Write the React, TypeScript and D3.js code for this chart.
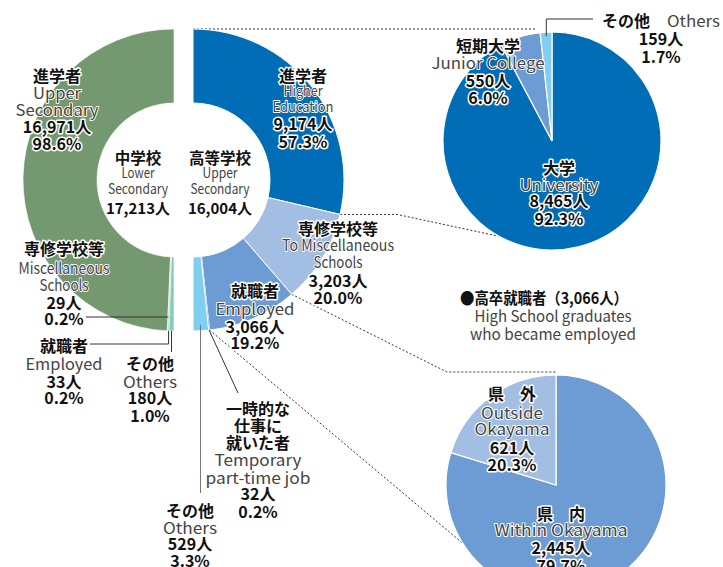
import React from "react";
import * as d3 from "d3";

const W = 723;
const H = 567;

// 中学校卒業者の進路
const jhsNames = ["進学者", "専修学校等", "就職者", "その他"];
const jhsCounts = [16971, 29, 33, 180];
const jhsPcts = [98.6, 0.2, 0.2, 1.0];
const jhsColors = ["#74986f", "#7dc994", "#1b9a4a", "#84cdbb"];

// 高等学校卒業者の進路
const hsNames = ["進学者", "専修学校等", "就職者", "一時的な仕事に就いた者", "その他"];
const hsCounts = [9174, 3203, 3066, 32, 529];
const hsPcts = [57.3, 20.0, 19.2, 0.2, 3.3];
const hsColors = ["#006db6", "#a3bee3", "#6c9cd3", "#0a6cb5", "#80cef1"];

// 進学者の内訳
const higherNames = ["大学", "短期大学", "その他"];
const higherCounts = [8465, 550, 159];
const higherPcts = [92.3, 6.0, 1.7];
const higherColors = ["#006db6", "#6c9cd3", "#80cef1"];

// 高卒就職者 県内・県外
const empNames = ["県　内", "県　外"];
const empCounts = [2445, 621];
const empPcts = [79.7, 20.3];
const empColors = ["#6c9cd3", "#a3bee3"];

const FONT = "'Noto Sans CJK JP', 'Noto Sans', sans-serif";
const fmtN = (v: number) => d3.format(",")(v) + "人";
const fmtP = (v: number) => d3.format(".1f")(v) + "%";

// layout
const CY = 180, R_OUT = 151, R_IN = 77, CX_L = 174, CX_R = 193;
const P1 = { x: 552, y: 141, r: 109 };
const P2 = { x: 556, y: 485, r: 110 };

const pt = (cx: number, cy: number, r: number, a: number): [number, number] => [
  cx + r * Math.sin(a),
  cy - r * Math.cos(a),
];
const mid = (d: any) => (d.startAngle + d.endAngle) / 2;
const deg = (v: number) => (v * Math.PI) / 180;

type Ln = { t: string; k?: "j" | "e" | "n"; w?: number; dy?: number; s?: number };

const Label = ({ x, y, lines, lh = 17 }: { x: number; y: number; lines: Ln[]; lh?: number }) => {
  let yy = y;
  return (
    <g>
      {lines.map((l, i) => {
        if (i > 0) yy += l.dy ?? lh;
        const k = l.k ?? "n";
        const en = k === "e";
        return (
          <text
            key={i}
            x={x}
            y={yy}
            textAnchor="middle"
            dominantBaseline="central"
            fontSize={l.s ?? (en ? 15.5 : 16)}
            fontWeight={en ? 400 : 700}
            fill={en ? "#444" : "#111"}
            stroke="#fff"
            strokeWidth={en ? 1.8 : 3}
            strokeLinejoin="round"
            paintOrder="stroke"
            textLength={l.w}
            lengthAdjust={l.w ? "spacingAndGlyphs" : undefined}
          >
            {l.t}
          </text>
        );
      })}
    </g>
  );
};

export default function App() {
  const halfL = d3.pie<number>().sort(null).startAngle(0).endAngle(-Math.PI)(jhsCounts);
  const halfR = d3.pie<number>().sort(null).startAngle(0).endAngle(Math.PI)(hsCounts);
  const pieH = d3.pie<number>().sort(null)(higherCounts);
  const pieE = d3.pie<number>().sort(null)(empCounts);

  const donut = d3.arc<any>().innerRadius(R_IN).outerRadius(R_OUT);
  const arc1 = d3.arc<any>().innerRadius(0).outerRadius(P1.r);
  const arc2 = d3.arc<any>().innerRadius(0).outerRadius(P2.r);

  // leader anchors
  const aL1 = mid(halfL[1]);
  const yL1 = 317;
  const xL1 = CX_L + ((yL1 - CY) / -Math.cos(aL1)) * Math.sin(aL1);
  const pL2 = pt(CX_L, CY, R_OUT, mid(halfL[2]));
  const pL3 = pt(CX_L, CY, R_OUT, mid(halfL[3]));
  const pR4 = pt(CX_R, CY, R_OUT - 6, mid(halfR[4]));
  const pR3 = pt(CX_R, CY, R_OUT, mid(halfR[3]));
  const pH2 = pt(P1.x, P1.y, P1.r - 4, mid(pieH[2]));

  // connector anchors
  const c2a = pt(CX_R, CY, R_OUT, halfR[0].endAngle);
  const c2b = pt(P1.x, P1.y, P1.r, deg(209));
  const c3a = pt(CX_R, CY, R_OUT, halfR[1].endAngle);
  const c4a = pt(CX_R, CY, R_OUT, halfR[2].endAngle);
  const c4b = pt(P2.x, P2.y, P2.r, deg(238));

  const jhsTotal = d3.sum(jhsCounts);
  const hsTotal = d3.sum(hsCounts);
  const empTotal = d3.sum(empCounts);

  const dots = { fill: "none", stroke: "#333", strokeWidth: 1, strokeDasharray: "2,2" };
  const lead = { fill: "none", stroke: "#333", strokeWidth: 1 };

  return (
    <svg
      width={W}
      height={H}
      style={{ position: "absolute", left: 0, top: 0, background: "#fff" }}
      fontFamily={FONT}
    >
      {/* connectors */}
      <path d={`M${CX_R},${CY - R_OUT}H${P1.x - 15}`} {...dots} />
      <path d={`M${c2a[0]},${c2a[1]}H397L${c2b[0]},${c2b[1]}`} {...dots} />
      <path d={`M${c3a[0]},${c3a[1]}L447,${P2.y - P2.r - 3}H${P2.x}`} {...dots} />
      <path d={`M${c4a[0]},${c4a[1]}L${c4b[0]},${c4b[1]}`} {...dots} />

      {/* two half donuts */}
      <g transform={`translate(${CX_L},${CY})`}>
        {halfL.map((d, i) => (
          <path key={i} d={donut(d) as string} fill={jhsColors[i]} stroke="#fff" strokeWidth={0.6} />
        ))}
      </g>
      <g transform={`translate(${CX_R},${CY})`}>
        {halfR.map((d, i) => (
          <path key={i} d={donut(d) as string} fill={hsColors[i]} stroke="#fff" strokeWidth={i === 3 ? 0.4 : 1} />
        ))}
      </g>

      {/* pies */}
      <g transform={`translate(${P1.x},${P1.y})`}>
        {pieH.map((d, i) => (
          <path key={i} d={arc1(d) as string} fill={higherColors[i]} stroke="#fff" strokeWidth={1.2} />
        ))}
      </g>
      <g transform={`translate(${P2.x},${P2.y})`}>
        {pieE.map((d, i) => (
          <path key={i} d={arc2(d) as string} fill={empColors[i]} stroke="#fff" strokeWidth={1.2} />
        ))}
      </g>

      {/* leader lines */}
      <path d={`M86,${yL1}H${xL1}`} {...lead} />
      <path d={`M90,344H${pL2[0]}V${pL2[1]}`} {...lead} />
      <path d={`M${pL3[0]},${pL3[1]}V352`} {...lead} />
      <path d={`M${pR4[0]},${pR4[1]}V493`} {...lead} stroke="#777" />
      <path d={`M${pR3[0]},${pR3[1]}L238,393`} {...lead} />
      <path d={`M${pH2[0]},${pH2[1]}V19H593`} {...lead} />

      {/* labels: 中学校 */}
      <Label x={57} y={75} lines={[
        { t: jhsNames[0], k: "j" },
        { t: "Upper", k: "e", w: 48 },
        { t: "Secondary", k: "e", w: 83 },
        { t: fmtN(jhsCounts[0]) },
        { t: fmtP(jhsPcts[0]) },
      ]} />
      <Label x={64} y={248} lines={[
        { t: jhsNames[1], k: "j" },
        { t: "Miscellaneous", k: "e", w: 91, dy: 19 },
        { t: "Schools", k: "e", w: 49 },
        { t: fmtN(jhsCounts[1]), dy: 18 },
        { t: fmtP(jhsPcts[1]), dy: 16 },
      ]} />
      <Label x={64} y={345} lines={[
        { t: jhsNames[2], k: "j" },
        { t: "Employed", k: "e", w: 77, dy: 18 },
        { t: fmtN(jhsCounts[2]), dy: 18 },
        { t: fmtP(jhsPcts[2]), dy: 16 },
      ]} />
      <Label x={150} y={363} lines={[
        { t: jhsNames[3], k: "j" },
        { t: "Others", k: "e", w: 54, dy: 18 },
        { t: fmtN(jhsCounts[3]), dy: 16 },
        { t: fmtP(jhsPcts[3]), dy: 18 },
      ]} />

      {/* center */}
      <Label x={138} y={157} lines={[
        { t: "中学校", k: "j", s: 15.5 },
        { t: "Lower", k: "e", w: 33, dy: 15, s: 14 },
        { t: "Secondary", k: "e", w: 60, dy: 16, s: 14 },
        { t: fmtN(jhsTotal), dy: 19, s: 15 },
      ]} />
      <Label x={220} y={157} lines={[
        { t: "高等学校", k: "j", s: 15.5 },
        { t: "Upper", k: "e", w: 35, dy: 15, s: 14 },
        { t: "Secondary", k: "e", w: 59, dy: 16, s: 14 },
        { t: fmtN(hsTotal), dy: 19, s: 15 },
      ]} />

      {/* labels: 高等学校 */}
      <Label x={303} y={75} lines={[
        { t: hsNames[0], k: "j" },
        { t: "Higher", k: "e", w: 39, dy: 15, s: 14 },
        { t: "Education", k: "e", w: 61, dy: 16, s: 14 },
        { t: fmtN(hsCounts[0]) },
        { t: fmtP(hsPcts[0]), dy: 18 },
      ]} />
      <Label x={338} y={228} lines={[
        { t: hsNames[1], k: "j" },
        { t: "To Miscellaneous", k: "e", w: 112, dy: 16 },
        { t: "Schools", k: "e", w: 49 },
        { t: fmtN(hsCounts[1]), dy: 19 },
        { t: fmtP(hsPcts[1]) },
      ]} />
      <Label x={255} y={290} lines={[
        { t: hsNames[2], k: "j" },
        { t: "Employed", k: "e", w: 79, dy: 18 },
        { t: fmtN(hsCounts[2]), dy: 18 },
        { t: fmtP(hsPcts[2]), dy: 16 },
      ]} />
      <Label x={258} y={408} lines={[
        { t: "一時的な", k: "j" },
        { t: "仕事に", k: "j" },
        { t: "就いた者", k: "j" },
        { t: "Temporary", k: "e", w: 87 },
        { t: "part-time job", k: "e", w: 105, dy: 18 },
        { t: fmtN(hsCounts[3]), dy: 16 },
        { t: fmtP(hsPcts[3]), dy: 18 },
      ]} />
      <Label x={190} y={510} lines={[
        { t: hsNames[4], k: "j" },
        { t: "Others", k: "e", w: 54 },
        { t: fmtN(hsCounts[4]), dy: 16 },
        { t: fmtP(hsPcts[4]) },
      ]} />

      {/* labels: 進学者内訳 */}
      <Label x={488} y={45} lines={[
        { t: higherNames[1], k: "j" },
        { t: "Junior College", k: "e", w: 113 },
        { t: fmtN(higherCounts[1]), dy: 18 },
        { t: fmtP(higherPcts[1]) },
      ]} />
      <Label x={559} y={167} lines={[
        { t: higherNames[0], k: "j" },
        { t: "University", k: "e", w: 79 },
        { t: fmtN(higherCounts[0]), dy: 16 },
        { t: fmtP(higherPcts[0]), dy: 18 },
      ]} />
      <text x={602} y={20} dominantBaseline="central" fontSize={16} fontWeight={700} fill="#111">
        {higherNames[2]}
      </text>
      <text x={667} y={20} dominantBaseline="central" fontSize={15.5} fontWeight={400} fill="#444"
        textLength={53} lengthAdjust="spacingAndGlyphs">
        Others
      </text>
      <Label x={661} y={38} lines={[
        { t: fmtN(higherCounts[2]) },
        { t: fmtP(higherPcts[2]), dy: 18 },
      ]} />

      {/* labels: 就職者 */}
      <text x={544} y={297} textAnchor="middle" dominantBaseline="central" fontSize={16} fontWeight={700}
        fill="#111" textLength={168} lengthAdjust="spacingAndGlyphs">
        {`●高卒就職者（${d3.format(",")(empTotal)}人）`}
      </text>
      <Label x={553} y={315} lines={[
        { t: "High School graduates", k: "e", w: 157 },
        { t: "who became employed", k: "e", w: 166, dy: 18 },
      ]} />
      <Label x={512} y={393} lines={[
        { t: empNames[1], k: "j" },
        { t: "Outside", k: "e", w: 62, dy: 19 },
        { t: "Okayama", k: "e", w: 75, dy: 16 },
        { t: fmtN(empCounts[1]), dy: 19 },
        { t: fmtP(empPcts[1]) },
      ]} />
      <Label x={561} y={513} lines={[
        { t: empNames[0], k: "j" },
        { t: "Within Okayama", k: "e", w: 133, dy: 16 },
        { t: fmtN(empCounts[0]), dy: 18 },
        { t: fmtP(empPcts[0]), dy: 18 },
      ]} />
    </svg>
  );
}
